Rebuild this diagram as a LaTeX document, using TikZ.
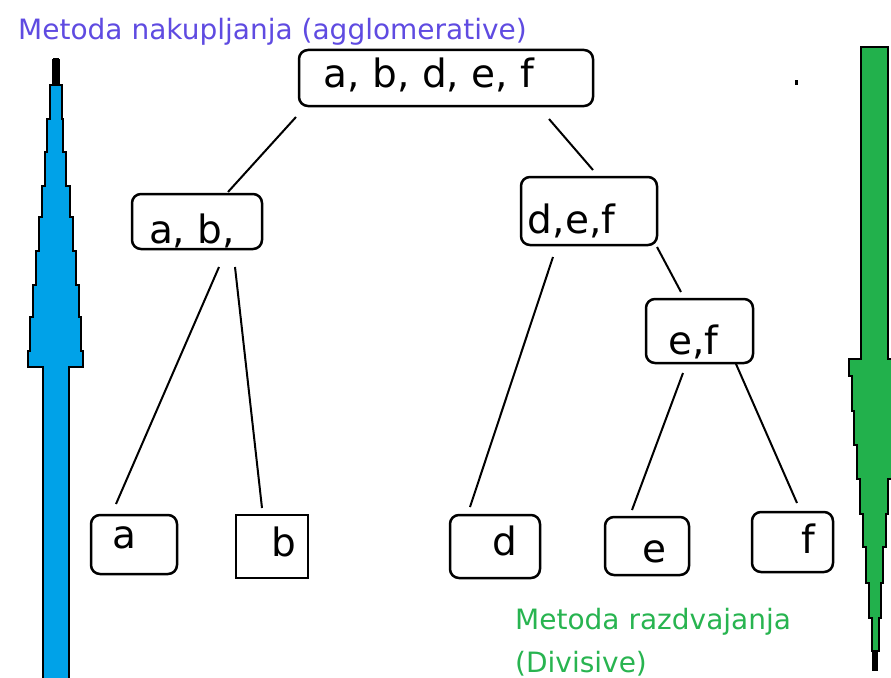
\documentclass[tikz,border=0pt]{standalone}
\usepackage{fontspec}
\setmainfont{DejaVu Sans}
\definecolor{arrowblue}{RGB}{0,162,232}
\definecolor{arrowgreen}{RGB}{34,177,76}
\definecolor{titleblue}{RGB}{95,75,225}
\definecolor{titlegreen}{RGB}{40,180,80}
\newcommand\boxtext[3]{\raisebox{#2}[0pt][0pt]{\makebox[0pt]{\hspace*{#1}\hspace*{#1}#3}}}
\tikzset{
  box/.style={draw, line width=2.5pt, rounded corners=9pt, inner sep=0pt, font=\fontsize{39}{47}\selectfont},
  sqbox/.style={box, sharp corners},
  conn/.style={line width=2pt},
  title/.style={anchor=base west, inner sep=0pt, font=\fontsize{28}{34}\selectfont},
  bigarrow/.style={draw=black, line width=2.4pt, line join=miter}
}
\begin{document}
\begin{tikzpicture}[x=1pt,y=-1pt]
\useasboundingbox (0,0) rectangle (891,677);
\begin{scope}
\clip (0,0) rectangle (891,677);
% blue upward arrow (agglomerative)
\filldraw[bigarrow, fill=arrowblue]
 (53,60) -- (59,60) -- (59,85) -- (62,85) -- (62,119) -- (63,119) -- (63,152) -- (66,152) -- (66,186) -- (70,186) -- (70,217) -- (73,217) -- (73,251) -- (76,251) -- (76,285) -- (79,285) -- (79,317) -- (81,317) -- (81,351) -- (83,351) -- (83,367) -- (69,367) -- (69,690) -- (43,690) -- (43,367) -- (28,367) -- (28,351) -- (30,351) -- (30,317) -- (33,317) -- (33,285) -- (36,285) -- (36,251) -- (39,251) -- (39,217) -- (42,217) -- (42,186) -- (45,186) -- (45,152) -- (47,152) -- (47,119) -- (50,119) -- (50,85) -- (53,85) -- cycle;
\fill[black] (53,58) rectangle (59,86);
% green downward arrow (divisive)
\filldraw[bigarrow, fill=arrowgreen]
 (861,47) -- (888,47) -- (888,359) -- (900,359) -- (900,479) -- (888,479) -- (888,514) -- (886,514) -- (886,547) -- (883,547) -- (883,583) -- (881,583) -- (881,618) -- (879,618) -- (879,651) -- (877,651) -- (877,670) -- (873,670) -- (873,651) -- (872,651) -- (872,618) -- (869,618) -- (869,583) -- (866,583) -- (866,547) -- (863,547) -- (863,514) -- (860,514) -- (860,479) -- (857,479) -- (857,445) -- (854,445) -- (854,411) -- (852,411) -- (852,376) -- (849,376) -- (849,359) -- (861,359) -- cycle;
\fill[black] (873,650) rectangle (877,671);
\end{scope}

% titles
\node[title, text=titleblue] (ttop) at (18,40) {Metoda nakupljanja (agglomerative)};
\node[title, text=titlegreen] (tdiv1) at (515,629) {Metoda razdvajanja};
\node[title, text=titlegreen] (tdiv2) at (515,672) {(Divisive)};

% tree nodes
\node[box, minimum width=294pt, minimum height=56pt] (top) at (446,78) {\boxtext{-17pt}{-9pt}{a, b, d, e, f}};
\node[box, minimum width=130pt, minimum height=55pt] (ab) at (197,221.5) {\boxtext{-5pt}{-21.5pt}{a, b,}};
\node[box, minimum width=136pt, minimum height=68pt] (def) at (589,211) {\boxtext{-17.5pt}{-22pt}{d,e,f}};
\node[box, minimum width=107pt, minimum height=64pt] (ef) at (699.5,331) {\boxtext{-6pt}{-23pt}{e,f}};
\node[box, minimum width=86pt, minimum height=59pt] (a) at (134,544.5) {\boxtext{-10pt}{-3.5pt}{a}};
\node[sqbox, minimum width=72pt, minimum height=63pt] (b) at (272,546.5) {\boxtext{12pt}{-9.5pt}{b}};
\node[box, minimum width=90pt, minimum height=63pt] (d) at (495,546.5) {\boxtext{10pt}{-8.5pt}{d}};
\node[box, minimum width=84pt, minimum height=58pt] (e) at (647,546) {\boxtext{7pt}{-16pt}{e}};
\node[box, minimum width=81pt, minimum height=60pt] (f) at (792.5,542) {\boxtext{15.5pt}{-11pt}{f}};

% connectors
\draw[conn] ([shift={(-150,39)}]top.center) -- ([shift={(31,-29.5)}]ab.center);
\draw[conn] ([shift={(103,41)}]top.center) -- ([shift={(4,-41)}]def.center);
\draw[conn] ([shift={(22,45.5)}]ab.center) -- ([shift={(-18,-40.5)}]a.center);
\draw[conn] ([shift={(38,45.5)}]ab.center) -- ([shift={(-10,-38.5)}]b.center);
\draw[conn] ([shift={(-36,46)}]def.center) -- ([shift={(-25,-39.5)}]d.center);
\draw[conn] ([shift={(68,36)}]def.center) -- ([shift={(-18.5,-39)}]ef.center);
\draw[conn] ([shift={(-16.5,42)}]ef.center) -- ([shift={(-15,-36)}]e.center);
\draw[conn] ([shift={(36.5,33)}]ef.center) -- ([shift={(4.5,-39)}]f.center);

% stray dot
\fill[black] (795,80) rectangle (797.5,85);
\end{tikzpicture}
\end{document}
